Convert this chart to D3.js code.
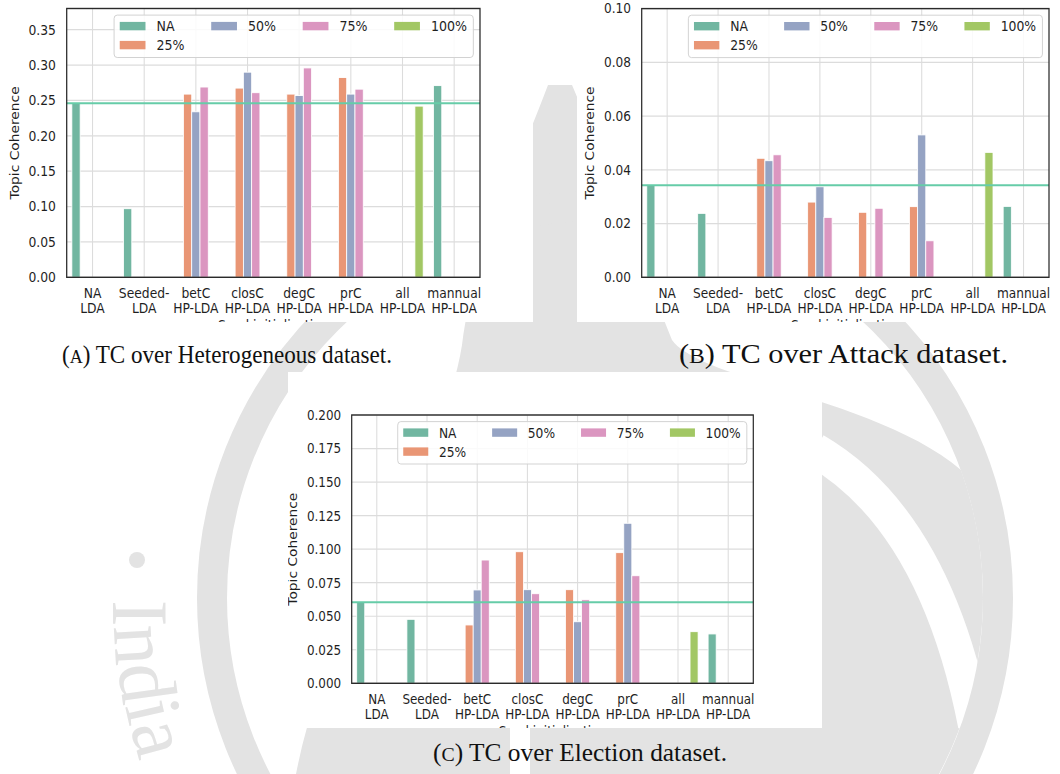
<!DOCTYPE html>
<html>
<head>
<meta charset="utf-8">
<script src="https://cdn.jsdelivr.net/npm/d3@7"></script>
<style>
  body { margin: 0; background: #fff; }
  svg { display: block; }
</style>
</head>
<body>
<svg id="page" width="1060" height="774"></svg>
<script>
// ---------- data ----------
const categories = ["NA|LDA", "Seeded-|LDA", "betC|HP-LDA", "closC|HP-LDA",
                    "degC|HP-LDA", "prC|HP-LDA", "all|HP-LDA", "mannual|HP-LDA"];
const hues = ["NA", "25%", "50%", "75%", "100%"];

// Heterogeneous dataset
const hetNA  = [0.246, 0.097, null, null, null, null, null, 0.271];
const het25  = [null, null, 0.259, 0.2675, 0.259, 0.2825, null, null];
const het50  = [null, null, 0.234, 0.290, 0.257, 0.259, null, null];
const het75  = [null, null, 0.269, 0.261, 0.296, 0.266, null, null];
const het100 = [null, null, null, null, null, null, 0.242, null];
const hetBaseline = 0.246;
const hetTicks = [0, 0.05, 0.10, 0.15, 0.20, 0.25, 0.30, 0.35];

// Attack dataset
const attNA  = [0.0343, 0.0238, null, null, null, null, null, 0.0264];
const att25  = [null, null, 0.0443, 0.0280, 0.0242, 0.0263, null, null];
const att50  = [null, null, 0.0434, 0.0337, null, 0.0530, null, null];
const att75  = [null, null, 0.0456, 0.0223, 0.0257, 0.0136, null, null];
const att100 = [null, null, null, null, null, null, 0.0465, null];
const attBaseline = 0.0343;
const attTicks = [0, 0.02, 0.04, 0.06, 0.08, 0.10];

// Election dataset
const eleNA  = [0.0605, 0.0477, null, null, null, null, null, 0.0368];
const ele25  = [null, null, 0.0435, 0.0981, 0.0698, 0.0974, null, null];
const ele50  = [null, null, 0.0696, 0.0698, 0.0459, 0.1193, null, null];
const ele75  = [null, null, 0.0919, 0.0668, 0.0623, 0.0802, null, null];
const ele100 = [null, null, null, null, null, null, 0.0385, null];
const eleBaseline = 0.0605;
const eleTicks = [0, 0.025, 0.05, 0.075, 0.10, 0.125, 0.15, 0.175, 0.20];

// ---------- styling ----------
const FONT = "'DejaVu Sans', sans-serif";
const SERIF = "'Liberation Serif', 'DejaVu Serif', serif";
const INK = "#1f1f1f";
const GRID = "#dcdcdc";
const WM = "#e3e3e3";
const hueColor = d3.scaleOrdinal()
  .domain(hues)
  .range(["#71b6a1", "#e99675", "#95a3c3", "#db96c0", "#a2c764"]);
const BASE_COLOR = "#66cca8";
const NATIVE_W = 459;   // axes width of the figure before it was resized

const svg = d3.select("#page");

// ---------- institute seal watermark behind the figures ----------
const seal = svg.append("g").attr("class", "seal");
const cx = 605, cy = 598;

seal.append("path")
  .attr("d", `M 548,85 C 520,160 472,260 462,345 C 440,480 330,600 296,774
              L 939,774 A 378 378 0 0 0 961,470
              C 880,400 700,380 672,340 C 640,260 600,150 572,85 Z`)
  .attr("fill", WM);
seal.append("path")
  .attr("d", "M 815,450 Q 935,520 975,725")
  .attr("fill", "none").attr("stroke", "#fff").attr("stroke-width", 34);
seal.append("path")
  .attr("d", "M 520,774 L 520,728")
  .attr("fill", "none").attr("stroke", "#fff").attr("stroke-width", 20);

seal.append("circle")
  .attr("cx", cx).attr("cy", cy).attr("r", 393)
  .attr("fill", "none").attr("stroke", WM).attr("stroke-width", 30);

// lettering around the seal, one glyph at a time along the circle
const sealR = 492;
let arcPos = 2;
"India".split("").forEach(ch => {
  const t = seal.append("text")
    .attr("font-family", SERIF).attr("font-size", 80).attr("fill", WM)
    .text(ch);
  const adv = t.node().getComputedTextLength();
  const th = arcPos / sealR;
  const px = cx - sealR * Math.cos(th), py = cy + sealR * Math.sin(th);
  t.attr("transform", `translate(${px},${py}) rotate(${90 - th * 180 / Math.PI})`);
  arcPos += adv;
});
seal.append("circle").attr("cx", cx - 468).attr("cy", cy - 38).attr("r", 8).attr("fill", WM);

// ---------- one bar-chart panel ----------
function drawPanel(p) {
  const { id, bg, ax, yMax, ticks, fmt, series, baseline } = p;

  svg.append("rect")
    .attr("x", bg.x).attr("y", bg.y).attr("width", bg.w).attr("height", bg.h)
    .attr("fill", "#fff");

  svg.append("clipPath").attr("id", "clip-" + id)
    .append("rect")
    .attr("x", bg.x).attr("y", bg.y).attr("width", bg.w).attr("height", bg.h);

  const sx = (ax.r - ax.l) / NATIVE_W;
  const iw = NATIVE_W, ih = ax.b - ax.t;
  const g = svg.append("g").attr("clip-path", `url(#clip-${id})`)
    .append("g").attr("transform", `translate(${ax.l},${ax.t}) scale(${sx},1)`);

  const x = d3.scaleBand().domain(categories).range([0, iw]).padding(0);
  const bw = x.bandwidth();
  const xh = d3.scaleBand().domain(hues).range([0.1 * bw, 0.9 * bw]).padding(0);
  const y = d3.scaleLinear().domain([0, yMax]).range([ih, 0]);

  // grid
  g.append("g").selectAll("line").data(categories).join("line")
    .attr("x1", d => x(d) + bw / 2).attr("x2", d => x(d) + bw / 2)
    .attr("y1", 0).attr("y2", ih)
    .attr("stroke", GRID).attr("stroke-width", 1.2);
  g.append("g").selectAll("line").data(ticks).join("line")
    .attr("x1", 0).attr("x2", iw)
    .attr("y1", d => y(d)).attr("y2", d => y(d))
    .attr("stroke", GRID).attr("stroke-width", 1.2);

  // y axis labels
  const yAxis = g.append("g")
    .call(d3.axisLeft(y).tickValues(ticks).tickFormat(d3.format(fmt))
      .tickSize(0).tickPadding(12));
  yAxis.select(".domain").remove();
  yAxis.selectAll("text")
    .attr("font-family", FONT).attr("font-size", 13.7).attr("fill", INK);

  let maxW = 0;
  yAxis.selectAll("text").each(function () {
    maxW = Math.max(maxW, this.getComputedTextLength());
  });

  // x category labels (two lines)
  const xl = g.append("g").selectAll("text").data(categories).join("text")
    .attr("font-family", FONT).attr("font-size", 13.7).attr("fill", INK)
    .attr("text-anchor", "middle");
  xl.append("tspan")
    .attr("x", d => x(d) + bw / 2).attr("y", ih + 20.6)
    .text(d => d.split("|")[0]);
  xl.append("tspan")
    .attr("x", d => x(d) + bw / 2).attr("y", ih + 35.6)
    .text(d => d.split("|")[1]);

  // x axis title (mostly cut off by the panel border)
  g.append("text")
    .attr("x", iw / 2).attr("y", ih + 53)
    .attr("text-anchor", "middle")
    .attr("font-family", FONT).attr("font-size", 13.8).attr("fill", INK)
    .text("Seed initialization");

  // bars
  hues.forEach((h, k) => {
    const vals = series[k];
    const rows = categories.map((c, i) => ({ c, v: vals[i] })).filter(r => r.v != null);
    g.append("g").selectAll("rect").data(rows).join("rect")
      .attr("x", r => x(r.c) + xh(h))
      .attr("width", xh.bandwidth())
      .attr("y", r => y(r.v))
      .attr("height", r => ih - y(r.v))
      .attr("fill", hueColor(h))
      .attr("stroke", "#fff").attr("stroke-width", 0.9);
  });

  // reference line at the plain LDA score
  g.append("line")
    .attr("x1", 0).attr("x2", iw)
    .attr("y1", y(baseline)).attr("y2", y(baseline))
    .attr("stroke", BASE_COLOR).attr("stroke-width", 2);

  // frame
  g.append("rect")
    .attr("x", 0).attr("y", 0).attr("width", iw).attr("height", ih)
    .attr("fill", "none").attr("stroke", "#2a2a2a").attr("stroke-width", 1.4);

  // y axis title
  g.append("text")
    .attr("transform", `translate(${-12 - maxW - 11},${ih / 2}) rotate(-90)`)
    .attr("text-anchor", "middle")
    .attr("font-family", FONT).attr("font-size", 13.8).attr("fill", INK)
    .text("Topic Coherence");

  // legend: 4 columns, filled column by column
  const lw = 399, lh = 42.4;
  const lx = iw - 7.4 - lw, ly = 6.6;
  const lg = g.append("g").attr("transform", `translate(${lx},${ly})`);
  lg.append("rect")
    .attr("width", lw).attr("height", lh).attr("rx", 3.5)
    .attr("fill", "#fff").attr("fill-opacity", 0.85)
    .attr("stroke", "#d0d0d0").attr("stroke-width", 1);
  const slots = [[0, 0], [0, 1], [1, 0], [2, 0], [3, 0]];
  hues.forEach((h, k) => {
    const [col, row] = slots[k];
    const hx = 6.3 + col * 101.6;
    const rc = 11 + row * 19;
    lg.append("rect")
      .attr("x", hx).attr("y", rc - 4.2).attr("width", 28.6).attr("height", 8.4)
      .attr("fill", hueColor(h));
    lg.append("text")
      .attr("x", hx + 40.8).attr("y", rc + 5)
      .attr("font-family", FONT).attr("font-size", 14).attr("fill", INK)
      .text(h);
  });
}

drawPanel({
  id: "het",
  bg: { x: 0, y: 0, w: 533, h: 322 },
  ax: { l: 66.7, r: 480, t: 8.5, b: 277.3 },
  yMax: 0.38, ticks: hetTicks, fmt: ".2f",
  series: [hetNA, het25, het50, het75, het100], baseline: hetBaseline
});
drawPanel({
  id: "att",
  bg: { x: 577, y: 0, w: 483, h: 322 },
  ax: { l: 641.7, r: 1049, t: 8.6, b: 277.3 },
  yMax: 0.10, ticks: attTicks, fmt: ".2f",
  series: [attNA, att25, att50, att75, att100], baseline: attBaseline
});
drawPanel({
  id: "ele",
  bg: { x: 288, y: 372, w: 534, h: 356 },
  ax: { l: 351.7, r: 753.3, t: 415, b: 683.3 },
  yMax: 0.20, ticks: eleTicks, fmt: ".3f",
  series: [eleNA, ele25, ele50, ele75, ele100], baseline: eleBaseline
});

// ---------- sub-figure captions ----------
function caption(letter, rest, x0, x1, baseY, size) {
  const t = svg.append("text")
    .attr("x", x0).attr("y", baseY)
    .attr("font-family", SERIF).attr("font-size", size).attr("fill", "#111")
    .attr("textLength", x1 - x0).attr("lengthAdjust", "spacingAndGlyphs");
  t.append("tspan").text("(");
  t.append("tspan").attr("font-size", size * 0.78).text(letter);
  t.append("tspan").text(") " + rest);
}
caption("A", "TC over Heterogeneous dataset.", 62, 392, 363, 25.5);
caption("B", "TC over Attack dataset.", 679, 1008, 363, 26.5);
caption("C", "TC over Election dataset.", 433, 727, 761, 25.5);
</script>
</body>
</html>
